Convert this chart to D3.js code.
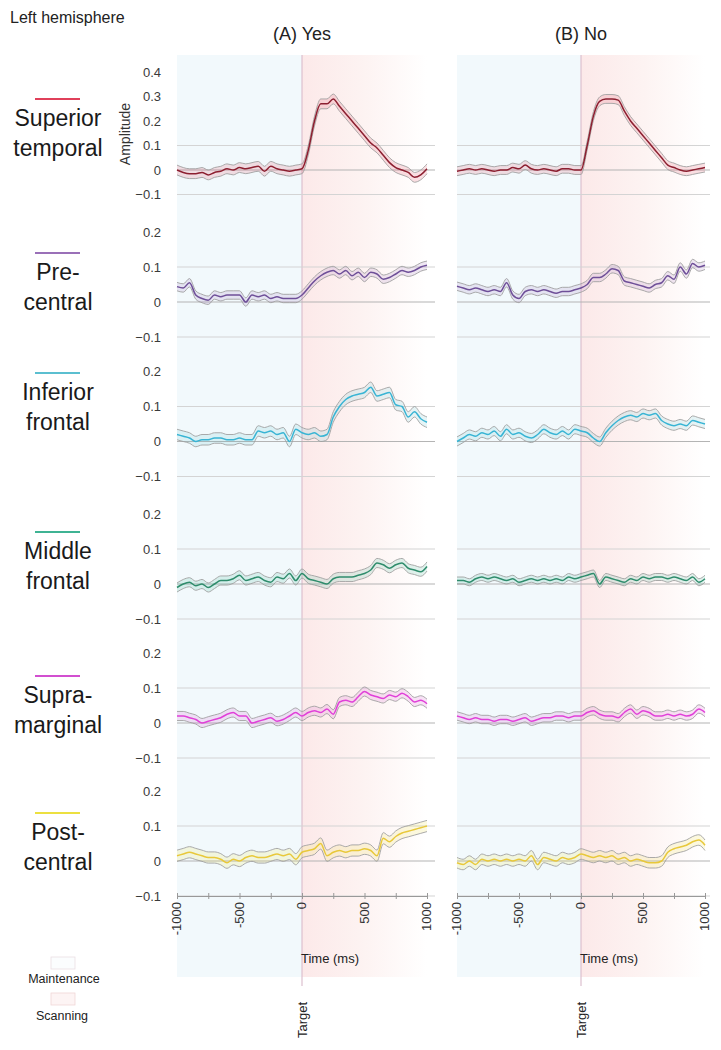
<!DOCTYPE html>
<html>
<head>
<meta charset="utf-8">
<script src="https://cdn.jsdelivr.net/npm/d3@7"></script>
<style>
  html, body { margin: 0; padding: 0; background: #fff; }
  svg { display: block; font-family: "Liberation Sans", Arial, sans-serif; }
</style>
</head>
<body>
<svg id="chart" width="721" height="1050"></svg>
<script>
// ---------------- DATA ----------------
const times = d3.range(-1000, 1001, 50); // ms, 41 samples
const conditions = ["(A) Yes", "(B) No"];
const regionLabels = [["Superior", "temporal"], ["Pre-", "central"], ["Inferior", "frontal"],
                      ["Middle", "frontal"], ["Supra-", "marginal"], ["Post-", "central"]];
const regionColors = ["#e0405a", "#9a70b8", "#5bbfd0", "#3fb393", "#d24fd0", "#ece040"];
const meanColors   = ["#8c1f30", "#6e4f98", "#38b4d4", "#2f8c6c", "#e040d8", "#e8c83a"];
const xTicks = [-1000, -500, 0, 500, 1000];
const yTicksRow1 = [0.4, 0.3, 0.2, 0.1, 0, -0.1];
const yTicksOther = [0.2, 0.1, 0, -0.1];
const gridValues = [0.1, 0, -0.1];
const halfWidthYes = [0.02, 0.012, 0.015, 0.013, 0.013, 0.016];
const halfWidthNo  = [0.018, 0.012, 0.013, 0.01, 0.012, 0.015];

const yesSuperiorTemporal = [0.0,-0.01,-0.015,-0.015,-0.01,-0.02,-0.01,-0.005,0.005,0.0,0.01,0.005,0.01,0.015,-0.005,0.015,0.005,0.0,-0.005,0.0,0.005,
  0.08,0.2,0.27,0.27,0.29,0.26,0.23,0.2,0.17,0.14,0.11,0.09,0.06,0.03,0.01,0.0,-0.01,-0.03,-0.02,0.005];
const noSuperiorTemporal = [-0.005,0.0,0.005,0.0,0.005,0.0,-0.005,0.0,0.0,0.01,0.005,0.02,0.005,0.0,0.005,0.0,-0.005,0.005,0.005,0.0,0.0,
  0.1,0.22,0.28,0.29,0.29,0.285,0.24,0.2,0.17,0.14,0.11,0.08,0.05,0.02,0.01,0.0,-0.005,0.0,0.005,0.01];
const yesPrecentral = [0.044,0.04,0.055,0.02,0.01,0.005,0.02,0.015,0.02,0.02,0.02,0.0,0.02,0.015,0.02,0.01,0.015,0.01,0.01,0.01,0.02,
  0.04,0.06,0.075,0.085,0.09,0.08,0.09,0.075,0.085,0.07,0.085,0.08,0.065,0.07,0.08,0.09,0.085,0.09,0.1,0.105];
const noPrecentral = [0.045,0.04,0.035,0.04,0.035,0.03,0.035,0.03,0.055,0.02,0.01,0.03,0.035,0.03,0.035,0.03,0.025,0.03,0.03,0.035,0.04,
  0.05,0.07,0.07,0.08,0.095,0.09,0.06,0.055,0.05,0.045,0.04,0.05,0.055,0.075,0.065,0.1,0.08,0.11,0.1,0.105];
const yesInferiorFrontal = [0.02,0.015,0.01,0.0,0.005,0.005,0.01,0.01,0.005,0.005,0.01,0.005,0.005,0.03,0.025,0.03,0.02,0.025,0.0,0.035,0.025,
  0.02,0.025,0.015,0.02,0.07,0.1,0.12,0.13,0.135,0.14,0.155,0.13,0.135,0.14,0.105,0.1,0.07,0.085,0.065,0.055];
const noInferiorFrontal = [0.0,0.01,0.02,0.015,0.025,0.02,0.03,0.015,0.035,0.02,0.025,0.015,0.01,0.02,0.035,0.025,0.02,0.03,0.02,0.035,0.03,
  0.025,0.01,0.0,0.025,0.045,0.06,0.07,0.075,0.07,0.08,0.075,0.08,0.06,0.05,0.045,0.05,0.045,0.06,0.055,0.05];
const yesMiddleFrontal = [-0.01,0.0,0.005,-0.005,0.0,-0.01,0.0,0.01,0.01,0.015,0.025,0.01,0.015,0.02,0.01,0.005,0.02,0.015,0.03,0.01,0.03,
  0.015,0.01,0.005,0.0,0.015,0.02,0.02,0.02,0.025,0.03,0.04,0.06,0.055,0.045,0.055,0.06,0.045,0.04,0.035,0.05];
const noMiddleFrontal = [0.01,0.01,0.005,0.015,0.02,0.015,0.02,0.015,0.01,0.015,0.005,0.01,0.015,0.01,0.015,0.01,0.015,0.01,0.02,0.015,0.02,
  0.025,0.03,0.0,0.02,0.015,0.01,0.005,0.015,0.01,0.02,0.015,0.02,0.02,0.015,0.02,0.015,0.01,0.02,0.005,0.015];
const yesSupramarginal = [0.02,0.02,0.015,0.01,0.0,0.005,0.01,0.015,0.025,0.03,0.02,0.02,0.0,0.005,0.01,0.015,0.005,0.01,0.02,0.03,0.02,
  0.03,0.035,0.03,0.04,0.025,0.06,0.065,0.06,0.075,0.09,0.08,0.075,0.07,0.08,0.075,0.085,0.075,0.06,0.065,0.055];
const noSupramarginal = [0.02,0.015,0.01,0.015,0.01,0.01,0.005,0.01,0.01,0.005,0.01,0.015,0.005,0.01,0.015,0.015,0.02,0.02,0.015,0.02,0.02,
  0.03,0.035,0.025,0.02,0.02,0.015,0.03,0.04,0.025,0.035,0.03,0.02,0.02,0.025,0.02,0.025,0.02,0.025,0.04,0.03];
const yesPostcentral = [0.015,0.02,0.025,0.02,0.015,0.01,0.01,0.005,-0.005,0.005,0.0,0.01,0.015,0.01,0.01,0.015,0.02,0.015,0.02,0.005,0.025,
  0.03,0.035,0.05,0.015,0.025,0.03,0.025,0.03,0.03,0.035,0.03,0.015,0.065,0.055,0.07,0.08,0.085,0.09,0.095,0.1];
const noPostcentral = [-0.005,-0.01,0.0,-0.01,0.005,0.0,0.005,0.0,0.005,0.0,0.005,0.0,0.015,-0.01,0.01,0.005,0.0,0.01,0.005,0.01,0.02,
  0.015,0.01,0.015,0.01,0.015,0.005,0.01,0.0,0.005,0.0,-0.005,-0.005,0.0,0.025,0.035,0.04,0.045,0.055,0.06,0.045];

const yesSeries = [yesSuperiorTemporal, yesPrecentral, yesInferiorFrontal, yesMiddleFrontal, yesSupramarginal, yesPostcentral];
const noSeries  = [noSuperiorTemporal, noPrecentral, noInferiorFrontal, noMiddleFrontal, noSupramarginal, noPostcentral];

// ---------------- LAYOUT ----------------
const svg = d3.select("#chart");
const panels = [
  { name: conditions[0], x0: 177, x1: 427, gridEnd: 435, series: yesSeries, hw: halfWidthYes },
  { name: conditions[1], x0: 457, x1: 705, gridEnd: 710, series: noSeries, hw: halfWidthNo }
];
const rowZero = [170, 302, 441.5, 584, 723, 861];
const bgTop = 55, bgBottom = 977;

function yScaleFor(r) {
  if (r === 0) return d3.scaleLinear().domain([-0.1, 0.4]).range([rowZero[0] + 24.5, rowZero[0] - 98]);
  return d3.scaleLinear().domain([-0.1, 0.2]).range([rowZero[r] + 35, rowZero[r] - 70]);
}

const defs = svg.append("defs");
const grad = defs.append("linearGradient").attr("id", "pinkGrad").attr("x1", "0").attr("x2", "1").attr("y1", "0").attr("y2", "0");
grad.append("stop").attr("offset", "0").attr("stop-color", "#fce9e9");
grad.append("stop").attr("offset", "0.5").attr("stop-color", "#fdf3f2");
grad.append("stop").attr("offset", "1").attr("stop-color", "#ffffff");

// Titles
svg.append("text").attr("x", 10).attr("y", 23).attr("font-size", 16).attr("fill", "#222").text("Left hemisphere");

panels.forEach(p => {
  const x = d3.scaleLinear().domain([-1000, 1000]).range([p.x0, p.x1]);
  const g = svg.append("g");
  g.append("rect").attr("x", x(-1000)).attr("y", bgTop).attr("width", x(0) - x(-1000)).attr("height", bgBottom - bgTop)
    .attr("fill", "#f2f9fc");
  g.append("rect").attr("x", x(0)).attr("y", bgTop).attr("width", x(1000) - x(0)).attr("height", bgBottom - bgTop)
    .attr("fill", "url(#pinkGrad)");
  g.append("text").attr("x", x(0)).attr("y", 40).attr("text-anchor", "middle").attr("font-size", 18).attr("fill", "#222").text(p.name);
  g.append("line").attr("x1", x(0)).attr("x2", x(0)).attr("y1", bgTop).attr("y2", bgBottom + 9)
    .attr("stroke", "#dcc0cf").attr("stroke-width", 1.2);

  p.series.forEach((vals, r) => {
    const y = yScaleFor(r);
    gridValues.forEach(v => {
      g.append("line").attr("x1", x(-1000)).attr("x2", p.gridEnd).attr("y1", y(v)).attr("y2", y(v))
        .attr("stroke", v === 0 ? "#b4b4b4" : "#d4d4d4").attr("stroke-width", 1.2);
    });
    const data = times.map((t, i) => ({ t, v: vals[i] }));
    const hw = p.hw[r];
    const area = d3.area().x(d => x(d.t)).y0(d => y(d.v - hw)).y1(d => y(d.v + hw)).curve(d3.curveMonotoneX);
    g.append("path").datum(data).attr("d", area).attr("fill", regionColors[r]).attr("opacity", 0.16);
    const lineU = d3.line().x(d => x(d.t)).y(d => y(d.v + hw)).curve(d3.curveMonotoneX);
    const lineL = d3.line().x(d => x(d.t)).y(d => y(d.v - hw)).curve(d3.curveMonotoneX);
    const lineM = d3.line().x(d => x(d.t)).y(d => y(d.v)).curve(d3.curveMonotoneX);
    g.append("path").datum(data).attr("d", lineU).attr("fill", "none").attr("stroke", "#a0a0a0").attr("stroke-width", 0.9);
    g.append("path").datum(data).attr("d", lineL).attr("fill", "none").attr("stroke", "#a0a0a0").attr("stroke-width", 0.9);
    g.append("path").datum(data).attr("d", lineM).attr("fill", "none").attr("stroke", meanColors[r]).attr("stroke-width", 1.5);
  });

  const yb = yScaleFor(5)(-0.1);
  const axis = d3.axisBottom(x).tickValues(d3.range(-1000, 1001, 250)).tickSize(3).tickFormat("");
  const ax = g.append("g").attr("transform", `translate(0,${yb})`).call(axis);
  ax.select(".domain").attr("stroke", "#999");
  ax.selectAll(".tick line").attr("stroke", "#999").attr("y1", -3);
  xTicks.forEach(t => {
    g.append("text").attr("transform", `translate(${x(t) + 4},${yb + 6}) rotate(-90)`)
      .attr("text-anchor", "end").attr("font-size", 13).attr("fill", "#333").text(t);
  });
  g.append("text").attr("x", x(0) + 28).attr("y", 963).attr("text-anchor", "middle").attr("font-size", 13).attr("fill", "#222").text("Time (ms)");
  g.append("text").attr("transform", `translate(${x(0) + 5},1020) rotate(-90)`).attr("text-anchor", "middle")
    .attr("font-size", 13).attr("fill", "#222").text("Target");
});

const yAxisX = 161;
rowZero.forEach((z, r) => {
  const y = yScaleFor(r);
  const ticks = r === 0 ? yTicksRow1 : yTicksOther;
  ticks.forEach(v => {
    svg.append("text").attr("x", yAxisX).attr("y", y(v)).attr("dy", "0.35em").attr("text-anchor", "end")
      .attr("font-size", 13).attr("fill", "#3a3a3a").text(d3.format("")(+v.toFixed(1)));
  });
});
svg.append("text").attr("transform", "translate(130,134) rotate(-90)").attr("text-anchor", "middle")
  .attr("font-size", 14).attr("fill", "#333").text("Amplitude");

const labelLineY = [99, 253, 373, 532, 676, 813];
regionLabels.forEach((lines, r) => {
  const ly = labelLineY[r];
  svg.append("line").attr("x1", 35).attr("x2", 80).attr("y1", ly).attr("y2", ly)
    .attr("stroke", regionColors[r]).attr("stroke-width", 2);
  lines.forEach((s, i) => {
    svg.append("text").attr("x", 58).attr("y", ly + 27 + i * 30).attr("text-anchor", "middle")
      .attr("font-size", 23).attr("fill", "#1a1a1a").text(s);
  });
});

svg.append("rect").attr("x", 51).attr("y", 957).attr("width", 24).attr("height", 12)
  .attr("fill", "#fbfdfe").attr("stroke", "#eadfe3").attr("stroke-width", 0.8);
svg.append("text").attr("x", 64).attr("y", 983).attr("text-anchor", "middle").attr("font-size", 12.5).attr("fill", "#222").text("Maintenance");
svg.append("rect").attr("x", 51).attr("y", 993).attr("width", 24).attr("height", 12)
  .attr("fill", "#fdf4f4").attr("stroke", "#f0d6d6").attr("stroke-width", 0.8);
svg.append("text").attr("x", 62).attr("y", 1020).attr("text-anchor", "middle").attr("font-size", 12.5).attr("fill", "#222").text("Scanning");
</script>
</body>
</html>
